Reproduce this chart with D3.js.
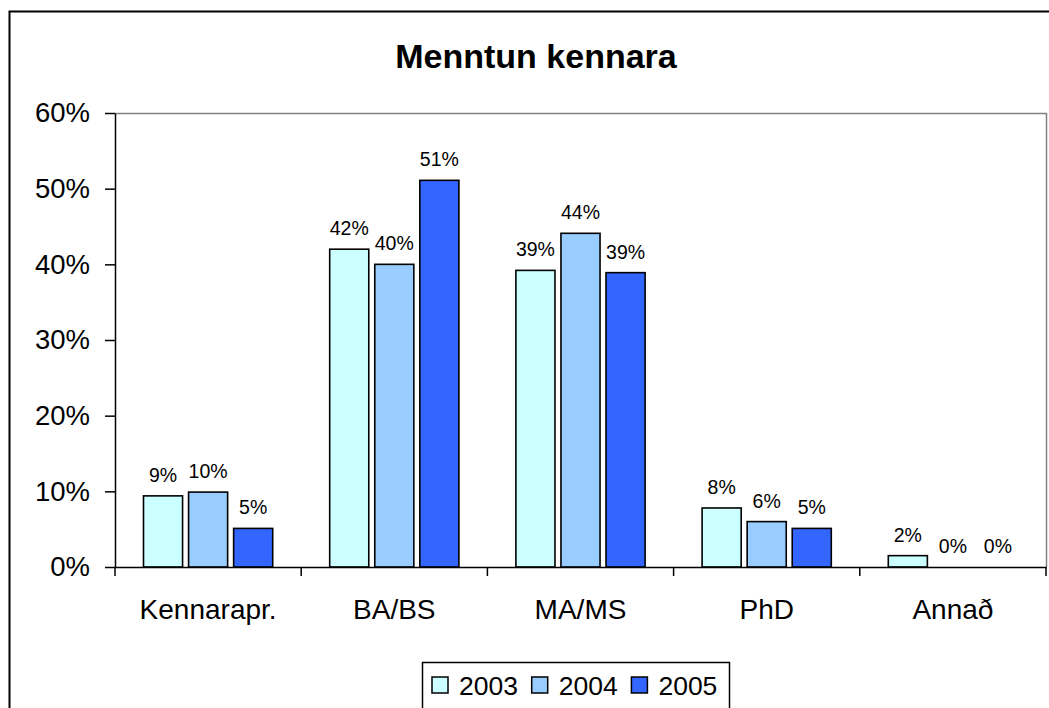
<!DOCTYPE html>
<html>
<head>
<meta charset="utf-8">
<script src="https://cdn.jsdelivr.net/npm/d3@7"></script>
<style>
  body { margin: 0; background: #fff; }
  text { font-family: "Liberation Sans", Arial, sans-serif; fill: #000; }
</style>
</head>
<body>
<svg id="chart" width="1049" height="708"></svg>
<script>
// Chart data
const categories = ["Kennarapr.", "BA/BS", "MA/MS", "PhD", "Annað"];
const years = ["2003", "2004", "2005"];
const values2003 = [0.094, 0.42, 0.392, 0.078, 0.015];
const values2004 = [0.099, 0.40, 0.441, 0.060, 0.0];
const values2005 = [0.051, 0.511, 0.389, 0.051, 0.0];
const yTicks = [0, 0.1, 0.2, 0.3, 0.4, 0.5, 0.6];
const colors = ["#ccffff", "#99ccff", "#3366ff"];

const series = [values2003, values2004, values2005];

const svg = d3.select("#chart");

// outer chart border (runs off the picture at right and bottom)
svg.append("rect")
  .attr("x", 9.5).attr("y", 11.5)
  .attr("width", 1100).attr("height", 800)
  .attr("fill", "none").attr("stroke", "#000").attr("stroke-width", 2);

const plot = { left: 115, right: 1046, top: 113, bottom: 567 };

const x0 = d3.scaleBand().domain(categories).range([plot.left, plot.right]).padding(0);
const x1 = d3.scaleBand().domain(years)
  .range([28.5, x0.bandwidth() - 28.5])
  .paddingInner(0.133).paddingOuter(0);
const y = d3.scaleLinear().domain([0, 0.6]).range([plot.bottom, plot.top]);
const color = d3.scaleOrdinal().domain(years).range(colors);

// title
svg.append("text")
  .attr("x", 536).attr("y", 68)
  .attr("text-anchor", "middle")
  .style("font-size", "34px").style("font-weight", "bold")
  .text("Menntun kennara");

// plot area frame (top and right, grey)
svg.append("path")
  .attr("d", `M${plot.left},${plot.top + 0.5}H${plot.right + 0.5}V${plot.bottom}`)
  .attr("fill", "none").attr("stroke", "#808080").attr("stroke-width", 1.5);

// bars
const groups = svg.append("g").selectAll("g")
  .data(categories)
  .join("g")
  .attr("transform", d => `translate(${x0(d)},0)`);

groups.selectAll("rect")
  .data((c, i) => years.map((yr, j) => ({ year: yr, value: series[j][i] })))
  .join("rect")
  .filter(d => d.value > 0)
  .attr("x", d => x1(d.year))
  .attr("y", d => y(d.value))
  .attr("width", x1.bandwidth())
  .attr("height", d => y(0) - y(d.value))
  .attr("fill", d => color(d.year))
  .attr("stroke", "#000")
  .attr("stroke-width", 1.6);

// value labels
groups.selectAll("text")
  .data((c, i) => years.map((yr, j) => ({ year: yr, value: series[j][i] })))
  .join("text")
  .attr("x", d => x1(d.year) + x1.bandwidth() / 2)
  .attr("y", d => y(d.value) - 14)
  .attr("text-anchor", "middle")
  .style("font-size", "19.5px")
  .text(d => d3.format(".0%")(d.value));

// y axis
const yAxis = svg.append("g")
  .attr("transform", `translate(${plot.left},0)`)
  .call(d3.axisLeft(y).tickValues(yTicks).tickFormat(d3.format(".0%")).tickSize(10).tickSizeOuter(0).tickPadding(15));
yAxis.select(".domain").attr("stroke", "#000").attr("stroke-width", 1.5);
yAxis.selectAll(".tick line").attr("stroke", "#000").attr("stroke-width", 1.5);
yAxis.selectAll(".tick text").style("font-size", "27.5px").attr("font-family", null);

// x axis
const xAxis = svg.append("g")
  .attr("transform", `translate(0,${plot.bottom})`)
  .call(d3.axisBottom(x0).tickSize(0).tickPadding(32));
xAxis.select(".domain").attr("stroke", "#000").attr("stroke-width", 1.5);
xAxis.selectAll(".tick text").style("font-size", "28px").attr("font-family", null);

// category boundary ticks
const bounds = categories.map(c => x0(c)).concat([plot.right]);
svg.append("g").selectAll("line")
  .data(bounds)
  .join("line")
  .attr("x1", d => d).attr("x2", d => d)
  .attr("y1", plot.bottom).attr("y2", plot.bottom + 9)
  .attr("stroke", "#000").attr("stroke-width", 1.5);

// legend
const legend = svg.append("g").attr("transform", "translate(422,662)");
legend.append("rect")
  .attr("x", 0.5).attr("y", 0.5).attr("width", 307).attr("height", 70)
  .attr("fill", "#fff").attr("stroke", "#000").attr("stroke-width", 1.5);
const items = legend.selectAll("g.item")
  .data(years)
  .join("g")
  .attr("class", "item")
  .attr("transform", (d, i) => `translate(${10 + i * 99.7},0)`);
items.append("rect")
  .attr("x", 0).attr("y", 15)
  .attr("width", 16).attr("height", 16)
  .attr("fill", d => color(d))
  .attr("stroke", "#000").attr("stroke-width", 1.5);
items.append("text")
  .attr("x", 27).attr("y", 33)
  .style("font-size", "26.5px")
  .text(d => d);
</script>
</body>
</html>
